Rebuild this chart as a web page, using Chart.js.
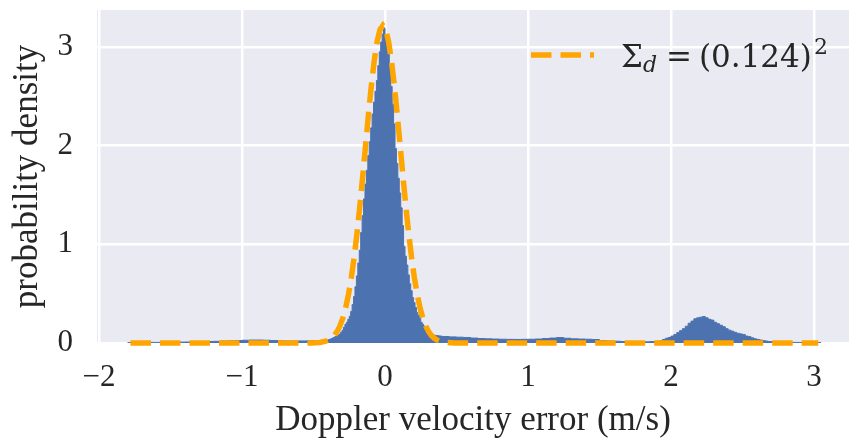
<!DOCTYPE html>
<html>
<head>
<meta charset="utf-8">
<script src="https://cdn.jsdelivr.net/npm/chart.js@4.4.0/dist/chart.umd.min.js"></script>
<style>
  html, body { margin: 0; padding: 0; background: #fff; }
</style>
</head>
<body>
<canvas id="chart" width="850" height="442"></canvas>
<script>
// axis ticks / limits
const xTicks = [-2, -1, 0, 1, 2, 3];
const yTicks = [0, 1, 2, 3];
const xMin = -2.014, xMax = 3.245;
const yMin = 0, yMax = 3.374;

// histogram of the doppler error, split in pieces with their own bin width
const leftTailStart = -1.80, leftTailWidth = 0.05;
const leftTail = [0.004, 0.004, 0.005, 0.006, 0.006, 0.007, 0.008, 0.009, 0.010, 0.011,
  0.012, 0.015, 0.017, 0.020, 0.022, 0.025, 0.028, 0.030, 0.030, 0.028,
  0.025, 0.022, 0.020, 0.020, 0.021, 0.022, 0.024, 0.027];

const peakStart = -0.40, peakWidth = 0.01;
const peak = [0.032, 0.037, 0.043, 0.050, 0.057, 0.065, 0.072, 0.080, 0.090, 0.110,
  0.130, 0.160, 0.190, 0.210, 0.240, 0.270, 0.320, 0.390, 0.470, 0.570,
  0.680, 0.810, 0.940, 1.120, 1.290, 1.460, 1.610, 1.750, 1.900, 2.040,
  2.180, 2.320, 2.440, 2.550, 2.660, 2.810, 2.950, 3.050, 3.130, 3.190,
  3.120, 3.060, 2.990, 2.800, 2.600, 2.420, 2.220, 1.970, 1.820, 1.670,
  1.520, 1.370, 1.190, 0.980, 0.880, 0.790, 0.690, 0.600, 0.530, 0.460,
  0.410, 0.360, 0.310, 0.280, 0.250, 0.210, 0.190, 0.170, 0.150, 0.130,
  0.110, 0.100, 0.090, 0.082, 0.079, 0.077, 0.075, 0.073, 0.071, 0.070];

const midStart = 0.40, midWidth = 0.05;
const mid = [0.066, 0.062, 0.059, 0.056, 0.050, 0.045, 0.042, 0.040, 0.038, 0.037,
  0.036, 0.037, 0.038, 0.040, 0.045, 0.050, 0.055, 0.048, 0.042, 0.040,
  0.038, 0.035, 0.025, 0.020, 0.018, 0.015, 0.014, 0.012, 0.012, 0.015];

const bumpStart = 1.90, bumpWidth = 0.02;
const bump = [0.018, 0.022, 0.035, 0.048, 0.056, 0.070, 0.085, 0.105, 0.125, 0.145,
  0.170, 0.200, 0.222, 0.245, 0.255, 0.262, 0.268, 0.255, 0.240, 0.232,
  0.210, 0.195, 0.180, 0.165, 0.145, 0.130, 0.120, 0.108, 0.098, 0.092,
  0.085, 0.070, 0.064, 0.052, 0.042, 0.036, 0.030, 0.024, 0.019, 0.015,
  0.013, 0.011, 0.009, 0.008, 0.007];

const rightTailStart = 2.80, rightTailWidth = 0.05;
const rightTail = [0.007, 0.006, 0.005, 0.005, 0.004];

// fitted gaussian, sigma = 0.124
const gaussX = [-1.78, -0.615, -0.515, -0.455,
  -0.415, -0.395, -0.375, -0.355, -0.335, -0.315, -0.295, -0.275, -0.255, -0.235,
  -0.215, -0.195, -0.175, -0.155, -0.135, -0.115, -0.095, -0.075, -0.055, -0.035,
  -0.015,
  0.005, 0.025, 0.045, 0.065, 0.085, 0.105, 0.125, 0.145, 0.165, 0.185,
  0.205, 0.225, 0.245, 0.265, 0.285, 0.305, 0.325, 0.345, 0.365, 0.385,
  0.425, 0.485, 0.585, 3.03];
const gaussY = [0, 0, 0.001, 0.006,
  0.018, 0.029, 0.048, 0.075, 0.115, 0.172, 0.251, 0.357, 0.494, 0.667,
  0.876, 1.122, 1.399, 1.701, 2.014, 2.324, 2.613, 2.862, 3.054, 3.175,
  3.217,
  3.175, 3.054, 2.862, 2.613, 2.324, 2.014, 1.701, 1.399, 1.122, 0.876,
  0.667, 0.494, 0.357, 0.251, 0.172, 0.115, 0.075, 0.048, 0.029, 0.018,
  0.006, 0.001, 0, 0];

const BLUE = '#4C72B0';
const ORANGE = '#FFA500';
const TEXT = '#262626';
const BG = '#EAEAF2';

function binsToPoints(segments) {
  const pts = [];
  let last = null;
  segments.forEach(seg => {
    seg.heights.forEach((h, i) => {
      pts.push({ x: +(seg.start + i * seg.width).toFixed(4), y: h });
    });
    const n = seg.heights.length;
    last = { x: +(seg.start + n * seg.width).toFixed(4), y: seg.heights[n - 1] };
  });
  pts.push(last);
  return pts;
}

const histPoints = binsToPoints([
  { start: leftTailStart, width: leftTailWidth, heights: leftTail },
  { start: peakStart, width: peakWidth, heights: peak },
  { start: midStart, width: midWidth, heights: mid },
  { start: bumpStart, width: bumpWidth, heights: bump },
  { start: rightTailStart, width: rightTailWidth, heights: rightTail },
]);

const fmt = v => (v < 0 ? '\u2212' + Math.abs(v) : String(v));
const tickFont = { family: "'Liberation Serif', 'Times New Roman', serif", size: 31 };
const titleFont = { family: "'Liberation Serif', 'Times New Roman', serif", size: 35, lineHeight: 1.2 };

// grey plot background like seaborn darkgrid
const bgPlugin = {
  id: 'plotBg',
  beforeDraw(chart) {
    const { ctx, chartArea: a } = chart;
    ctx.save();
    ctx.fillStyle = BG;
    ctx.fillRect(a.left, a.top, a.right - a.left, a.bottom - a.top);
    ctx.restore();
  }
};

// legend with the math label (subscript / superscript)
const legendPlugin = {
  id: 'mathLegend',
  afterDraw(chart) {
    const { ctx, chartArea } = chart;
    const lx = chartArea.right - 318, ly = chartArea.top + 45;
    ctx.save();
    ctx.strokeStyle = ORANGE;
    ctx.lineWidth = 5.5;
    ctx.lineCap = 'butt';
    ctx.setLineDash([20.5, 9]);
    ctx.beginPath();
    ctx.moveTo(lx, ly);
    ctx.lineTo(lx + 63, ly);
    ctx.stroke();
    ctx.setLineDash([]);

    ctx.fillStyle = TEXT;
    ctx.textAlign = 'left';
    ctx.textBaseline = 'alphabetic';
    const base = ly + 12;
    let x = lx + 90;
    ctx.font = "31px 'DejaVu Serif'";
    ctx.fillText('\u03A3', x, base);
    x += ctx.measureText('\u03A3').width;
    ctx.font = "italic 22px 'DejaVu Serif'";
    ctx.fillText('d', x, base + 5);
    x += ctx.measureText('d').width + 9;
    ctx.font = "31px 'DejaVu Serif'";
    ctx.fillText('=', x, base);
    x += ctx.measureText('=').width + 7;
    ctx.fillText('(0.124)', x, base);
    x += ctx.measureText('(0.124)').width + 2;
    ctx.font = "22px 'DejaVu Serif'";
    ctx.fillText('2', x, base - 13);
    ctx.restore();
  }
};

new Chart(document.getElementById('chart'), {
  type: 'line',
  data: {
    datasets: [
      {
        label: '\u03A3d = (0.124)\u00B2',
        data: gaussX.map((x, i) => ({ x, y: gaussY[i] })),
        borderColor: ORANGE,
        borderWidth: 5.5,
        borderDash: [20.5, 9],
        borderCapStyle: 'butt',
        pointRadius: 0,
        fill: false,
        tension: 0,
        clip: false,
      },
      {
        label: 'histogram',
        data: histPoints,
        stepped: true,
        fill: 'origin',
        backgroundColor: BLUE,
        borderColor: BLUE,
        borderWidth: 1,
        pointRadius: 0,
      },
    ],
  },
  options: {
    responsive: false,
    animation: false,
    events: [],
    layout: { padding: { top: 10, right: 1, left: 0, bottom: 0 } },
    plugins: { legend: { display: false }, tooltip: { enabled: false } },
    scales: {
      x: {
        type: 'linear',
        min: xMin,
        max: xMax,
        afterBuildTicks: ax => { ax.ticks = xTicks.map(v => ({ value: v })); },
        afterFit: ax => { ax.height = 99; ax.paddingLeft = 0; ax.paddingRight = 0; },
        grid: { color: '#ffffff', lineWidth: 2.5, drawTicks: false },
        border: { display: false },
        ticks: { font: tickFont, color: TEXT, padding: 16, maxRotation: 0, autoSkip: false, callback: fmt },
        title: { display: true, text: 'Doppler velocity error (m/s)', font: titleFont, color: TEXT, padding: { top: 0, bottom: 0 } },
      },
      y: {
        min: yMin,
        max: yMax,
        afterBuildTicks: ax => { ax.ticks = yTicks.map(v => ({ value: v })); },
        afterFit: ax => { ax.width = 97; ax.paddingTop = 0; ax.paddingBottom = 0; },
        grid: { color: '#ffffff', lineWidth: 2.5, drawTicks: false },
        border: { display: false },
        ticks: { font: tickFont, color: TEXT, padding: 24, callback: fmt },
        title: { display: true, text: 'probability density', font: titleFont, color: TEXT, padding: { top: 7, bottom: 0 } },
      },
    },
  },
  plugins: [bgPlugin, legendPlugin],
});
</script>
</body>
</html>
